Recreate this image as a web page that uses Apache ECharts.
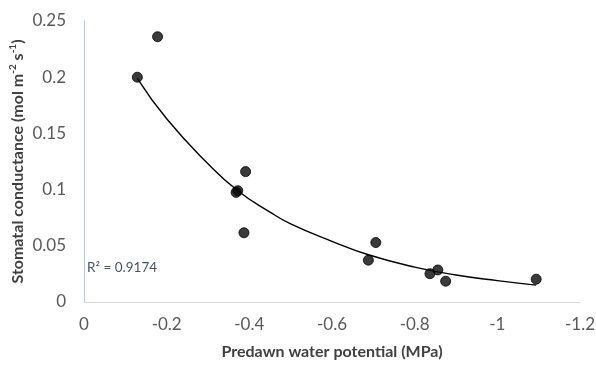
<!DOCTYPE html>
<html>
<head>
<meta charset="utf-8">
<style>
  html, body { margin: 0; padding: 0; background: #fff; }
  #chart { width: 596px; height: 365px; }
</style>
<script src="https://cdn.jsdelivr.net/npm/echarts@6/dist/echarts.min.js"></script>
</head>
<body>
<div id="chart"></div>
<script>
// measured points (predawn water potential MPa, stomatal conductance)
const potential = [-0.129, -0.178, -0.391, -0.372, -0.368, -0.387, -0.706, -0.688, -0.837, -0.856, -0.875, -1.094];
const conductance = [0.200, 0.236, 0.116, 0.099, 0.0975, 0.0616, 0.0529, 0.0372, 0.0252, 0.0285, 0.0185, 0.0203];

// exponential trend line
const trendX = [-0.129, -0.2, -0.3, -0.372, -0.45, -0.5, -0.6, -0.688, -0.8, -0.9, -1.0, -1.094];
const trendY = [0.199, 0.163, 0.123, 0.099, 0.080, 0.0695, 0.054, 0.042, 0.031, 0.024, 0.019, 0.015];

const r2Label = 'R² = 0.9174';

const chart = echarts.init(document.getElementById('chart'), null, { renderer: 'canvas' });
const font = 'Lato, Open Sans, sans-serif';

chart.setOption({
  animation: false,
  grid: { left: 84, right: 16, top: 21, bottom: 63, outerBoundsMode: 'none' },
  xAxis: {
    type: 'value',
    inverse: true,
    min: -1.2,
    max: 0,
    interval: 0.2,
    name: 'Predawn water potential (MPa)',
    nameLocation: 'middle',
    nameGap: 42,
    nameMoveOverlap: false,
    nameTextStyle: { color: '#404040', fontSize: 16, fontWeight: 'bold', fontFamily: font },
    axisLine: { onZero: false, lineStyle: { color: '#d9d9d9', width: 1 } },
    axisTick: { show: false },
    axisLabel: { color: '#595959', fontSize: 17, fontFamily: font, margin: 14 },
    splitLine: { show: false },
  },
  yAxis: {
    type: 'value',
    min: 0,
    max: 0.25,
    interval: 0.05,
    name: 'Stomatal conductance (mol m{sup|-2} s{sup|-1})',
    nameLocation: 'middle',
    nameGap: 56,
    nameMoveOverlap: false,
    nameTextStyle: {
      color: '#404040',
      fontSize: 16,
      fontWeight: 'bold',
      fontFamily: font,
      lineHeight: 20,
      rich: {
        sup: { fontSize: 10, fontWeight: 'bold', fontFamily: font, color: '#404040', verticalAlign: 'top', lineHeight: 12 },
      },
    },
    axisLine: { show: true, onZero: false, lineStyle: { color: '#b4c7e7', width: 1 } },
    axisTick: { show: false },
    axisLabel: { color: '#595959', fontSize: 17, fontFamily: font, margin: 18 },
    splitLine: { show: false },
  },
  graphic: [
    {
      type: 'text',
      left: 87,
      top: 261,
      style: { text: r2Label, fill: '#44546a', fontSize: 13.5, fontFamily: font },
    },
  ],
  series: [
    {
      type: 'line',
      data: trendX.map((x, i) => [x, trendY[i]]),
      smooth: true,
      showSymbol: false,
      lineStyle: { color: '#000', width: 1.4 },
      z: 2,
    },
    {
      type: 'scatter',
      data: potential.map((x, i) => [x, conductance[i]]),
      symbol: 'circle',
      symbolSize: 10,
      itemStyle: { color: '#0a0a0a', borderColor: '#000', borderWidth: 1 },
      z: 3,
    },
  ],
});
</script>
</body>
</html>
